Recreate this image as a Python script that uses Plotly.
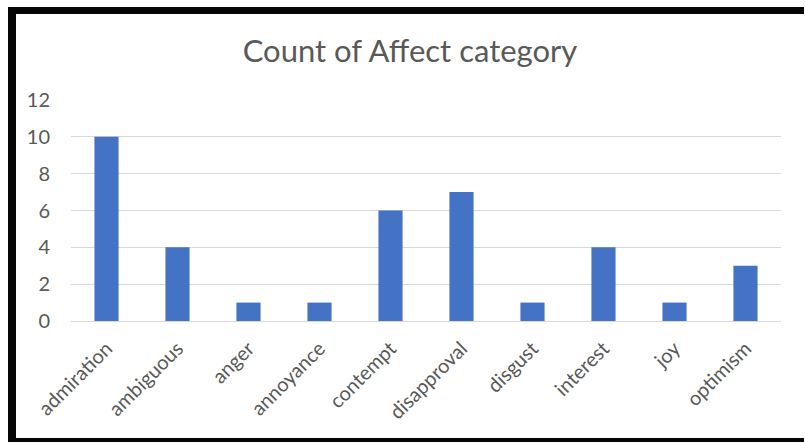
import plotly.graph_objects as go

categories = ["admiration", "ambiguous", "anger", "annoyance", "contempt",
              "disapproval", "disgust", "interest", "joy", "optimism"]
counts = [10, 4, 1, 1, 6, 7, 1, 4, 1, 3]
y_ticks = [0, 2, 4, 6, 8, 10, 12]

W, H = 805, 443
ML, MR, MT, MB = 71, 24, 100, 122
PW = W - ML - MR
PH = H - MT - MB


def fx(p):
    return (p - ML) / PW


def fy(p):
    return (H - MB - p) / PH


fig = go.Figure(go.Bar(
    x=categories, y=counts,
    marker=dict(color="#4472C4", line=dict(width=0)),
    width=0.34,
))

# dark frame on the top, left and bottom edges of the chart
frame = [
    (8, 7, W - 1, 14),      # top edge
    (8, 7, 16, H - 1),      # left edge
    (8, 438, W - 1, H - 1), # bottom edge
]
shapes = [dict(type="rect", xref="paper", yref="paper",
               x0=fx(a), x1=fx(c), y0=fy(d), y1=fy(b),
               fillcolor="#060606", line=dict(width=0), layer="above")
          for a, b, c, d in frame]

fig.update_layout(
    width=W, height=H,
    margin=dict(l=ML, r=MR, t=MT, b=MB),
    paper_bgcolor="white", plot_bgcolor="white",
    showlegend=False,
    title=dict(text="Count of Affect category", x=410 / W, xanchor="center",
               y=1 - 51 / H, yanchor="middle",
               font=dict(family="Lato", size=31, color="#595959")),
    xaxis=dict(tickangle=-45, tickfont=dict(family="Lato", size=20, color="#595959"),
               showline=True, linecolor="#d9d9d9", linewidth=1, ticks="",
               showgrid=False, ticklabelstandoff=7),
    yaxis=dict(range=[0, 12], tickvals=y_ticks, showgrid=True,
               gridcolor="#d9d9d9", gridwidth=1, zeroline=False,
               tickfont=dict(family="Lato", size=20, color="#595959"),
               ticks="", ticklen=0, ticklabelstandoff=20),
    shapes=shapes,
)

fig.write_html("out.html", config=dict(displayModeBar=False))
